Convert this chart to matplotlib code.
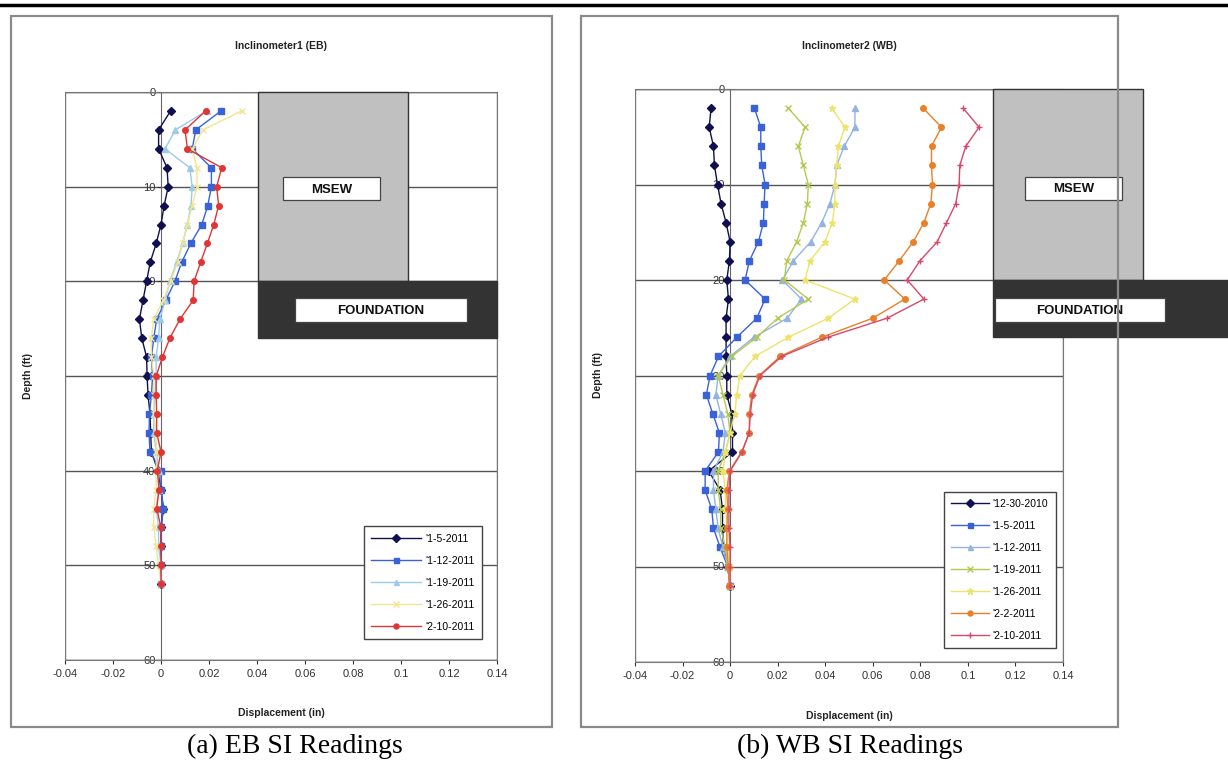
import numpy as np
import matplotlib
matplotlib.use("Agg")
import matplotlib.pyplot as plt
from matplotlib.patches import Rectangle
from matplotlib.lines import Line2D

plt.rcParams['font.family'] = ['Liberation Sans', 'DejaVu Sans']

W, H = 1228, 768

# depth of readings (ft)
depth = list(range(2, 54, 2))

# EB inclinometer, displacement (in)
eb_labels = ["'1-5-2011", "'1-12-2011", "'1-19-2011", "'1-26-2011", "'2-10-2011"]
eb_0105 = [0.004, -0.001, -0.001, 0.0025, 0.003, 0.0013, 0.0, -0.002, -0.0045, -0.006, -0.0075, -0.009, -0.008,
           -0.006, -0.0058, -0.0054, -0.0046, -0.0043, -0.004, -0.0013, 0.0, 0.001, 0.0, 0.0, 0.0, 0.0]
eb_0112 = [0.025, 0.0145, 0.013, 0.021, 0.021, 0.0195, 0.017, 0.0124, 0.0086, 0.0058, 0.002, -0.0018, -0.003,
           -0.004, -0.0035, -0.004, -0.0048, -0.005, -0.0046, 0.0, 0.0, 0.001, 0.0, 0.0, 0.0, 0.0]
eb_0119 = [0.019, 0.006, 0.0017, 0.012, 0.013, 0.0125, 0.011, 0.009, 0.0065, 0.0037, 0.0017, -0.0005, -0.001,
           -0.002, -0.002, -0.0025, -0.003, -0.003, -0.002, -0.001, -0.001, -0.002, -0.001, -0.001, 0.0, 0.0]
eb_0126 = [0.0336, 0.0175, 0.013, 0.015, 0.015, 0.013, 0.011, 0.009, 0.007, 0.004, 0.001, -0.003, -0.004,
           -0.004, -0.003, -0.003, -0.003, -0.002, -0.002, -0.002, -0.002, -0.003, -0.003, -0.002, -0.001, 0.0]
eb_0210 = [0.0186, 0.010, 0.011, 0.0253, 0.0232, 0.024, 0.022, 0.0193, 0.0165, 0.0138, 0.0134, 0.0079, 0.0037,
           0.0006, -0.002, -0.002, -0.0018, -0.0018, 0.0, -0.0015, -0.0008, -0.0018, 0.0, 0.0, 0.0, 0.0]

# WB inclinometer, displacement (in)
wb_labels = ["'12-30-2010", "'1-5-2011", "'1-12-2011", "'1-19-2011", "'1-26-2011", "'2-2-2011", "'2-10-2011"]
wb_1230 = [-0.008, -0.0088, -0.007, -0.0066, -0.0053, -0.0038, -0.0017, 0.0, -0.0003, -0.0014, -0.0007, -0.0017,
           -0.0017, -0.0017, -0.0014, -0.0014, 0.0007, 0.001, 0.001, -0.009, -0.0042, -0.0032, -0.0032, -0.0028,
           -0.001, 0.0]
wb_0105 = [0.0102, 0.0129, 0.0129, 0.0133, 0.0147, 0.0143, 0.014, 0.0119, 0.0081, 0.0063, 0.0147, 0.0112, 0.0028,
           -0.0049, -0.0084, -0.010, -0.0073, -0.0045, -0.0049, -0.0105, -0.0105, -0.0077, -0.007, -0.0042,
           -0.001, 0.0]
wb_0112 = [0.0525, 0.0525, 0.048, 0.0448, 0.0441, 0.042, 0.0385, 0.0339, 0.0266, 0.022, 0.030, 0.024, 0.010,
           0.0, -0.005, -0.006, -0.004, -0.002, -0.003, -0.007, -0.007, -0.006, -0.005, -0.003, -0.001, 0.0]
wb_0119 = [0.0245, 0.0315, 0.0287, 0.0308, 0.0329, 0.0325, 0.0308, 0.028, 0.0238, 0.0228, 0.0329, 0.020, 0.0112,
           0.0007, -0.005, -0.003, -0.001, 0.0, -0.002, -0.005, -0.005, -0.004, -0.004, -0.002, -0.001, 0.0]
wb_0126 = [0.0427, 0.0483, 0.0455, 0.0448, 0.0441, 0.044, 0.043, 0.0399, 0.0336, 0.0315, 0.0525, 0.0413, 0.0245,
           0.0105, 0.0042, 0.0028, 0.002, 0.0, -0.002, -0.003, -0.002, -0.002, -0.001, -0.001, 0.0, 0.0]
wb_0202 = [0.0812, 0.0889, 0.0847, 0.0847, 0.0851, 0.0844, 0.0815, 0.077, 0.0711, 0.0648, 0.0735, 0.060, 0.0385,
           0.021, 0.0123, 0.0091, 0.0081, 0.0081, 0.0049, -0.0003, -0.0014, -0.001, -0.0014, -0.0014, -0.0007,
           -0.0004]
wb_0210 = [0.098, 0.1047, 0.0991, 0.0966, 0.0963, 0.0949, 0.091, 0.0871, 0.0798, 0.0745, 0.0815, 0.066, 0.041,
           0.0217, 0.0126, 0.0095, 0.0085, 0.008, 0.005, 0.0, -0.0005, -0.0005, -0.0005, 0.0, 0.0, 0.0]

xticks = [-0.04, -0.02, 0, 0.02, 0.04, 0.06, 0.08, 0.1, 0.12, 0.14]
yticks = [0, 10, 20, 30, 40, 50, 60]

eb_style = [('#101050', 'D'), ('#3a62d8', 's'), ('#9ccbe8', '^'), ('#f0e592', 'x'), ('#e03535', 'o')]
wb_style = [('#101050', 'D'), ('#3a62d8', 's'), ('#93b4e3', '^'), ('#b5c951', 'x'),
            ('#ece46a', '*'), ('#e8802a', 'o'), ('#d8486a', '+')]


def px(x0, y0, x1, y1):
    # pixel box (top-left origin) -> figure fraction rect
    return [x0 / W, 1 - y1 / H, (x1 - x0) / W, (y1 - y0) / H]


fig = plt.figure(figsize=(W / 100, H / 100), dpi=100)
fig.patch.set_facecolor('white')

# top rule and panel frames
fig.add_artist(Line2D([0, 1], [1 - 5 / H, 1 - 5 / H], color='black', lw=2.5, transform=fig.transFigure))
for (a, b, c, d) in [(11, 16, 552, 727), (581, 16, 1118, 727)]:
    fig.add_artist(Rectangle((a / W, 1 - d / H), (c - a) / W, (d - b) / H, fill=False,
                             edgecolor='#8a8a8a', lw=1.6, transform=fig.transFigure))


def label_box(ax, x0, x1, d0, d1, text):
    ax.add_patch(Rectangle((x0, d0), x1 - x0, d1 - d0, facecolor='white', edgecolor='#444444', lw=0.9,
                           zorder=4, clip_on=False))
    ax.text((x0 + x1) / 2, (d0 + d1) / 2 + 0.1, text, fontsize=9.5, fontweight='bold', ha='center',
            va='center', zorder=5, clip_on=False, color='#111111')


def make_panel(rect, series, labels, styles, title, caption, cx, capx, leg_anchor, hlen, shapes, boxes):
    ax = fig.add_axes(rect)
    for vals, lab, (col, mk) in zip(series, labels, styles):
        ms = 4 if mk in ('D', 's', '^', 'o') else 5
        ax.plot(vals, depth, color=col, marker=mk, ms=ms, lw=1.0, mec=col, mfc=col, label=lab, zorder=3)
    ax.set_xlim(xticks[0], xticks[-1])
    ax.set_ylim(yticks[-1], yticks[0])
    ax.set_xticks(xticks)
    ax.set_xticklabels(['%g' % t for t in xticks])
    ax.set_yticks(yticks)
    ax.spines['left'].set_position(('data', 0))
    ax.spines['left'].set_color('#666666')
    for s in ['top', 'right', 'bottom']:
        ax.spines[s].set_color('#777777')
    ax.add_patch(Rectangle((0, 0), 1, 1, transform=ax.transAxes, fill=False, edgecolor='#777777', lw=1.0,
                           zorder=1))
    ax.yaxis.grid(True, color='#555555', lw=1.0)
    ax.set_axisbelow(True)
    ax.tick_params(axis='both', labelsize=8, colors='#333333', length=3, width=0.8)
    ax.tick_params(axis='y', pad=1)
    ax.set_ylabel('Depth (ft)', fontsize=7.5, fontweight='bold', color='#222222')
    ax.set_xlabel('Displacement (in)', fontsize=7.5, fontweight='bold', color='#222222')
    ax.yaxis.set_label_coords(-0.075, 0.5)
    ax.xaxis.set_label_coords(0.5, -0.085)

    # MSEW / foundation blocks
    (mx0, mx1, md0, md1), (fx0, fx1, fd0, fd1) = shapes
    ax.add_patch(Rectangle((mx0, md0), mx1 - mx0, md1 - md0, facecolor='#c0c0c0', edgecolor='#333333',
                           lw=1.0, zorder=2.8, clip_on=False))
    ax.add_patch(Rectangle((fx0, fd0), fx1 - fx0, fd1 - fd0, facecolor='#333333', edgecolor='#333333',
                           lw=1.0, zorder=2.8, clip_on=False))
    label_box(ax, *boxes[0], 'MSEW')
    label_box(ax, *boxes[1], 'FOUNDATION')

    leg = ax.legend(loc='lower right', bbox_to_anchor=leg_anchor, fontsize=7.5, frameon=True, fancybox=False,
                    edgecolor='#444444', framealpha=1, handlelength=hlen, borderpad=0.7, labelspacing=1.15,
                    handletextpad=0.4, markerscale=0.9)
    leg.get_frame().set_linewidth(1.0)
    leg.set_zorder(6)

    fig.text(cx / W, 1 - 46 / H, title, fontsize=7.5, fontweight='bold', ha='center', va='center',
             color='#222222')
    fig.text(capx / W, 1 - 746 / H, caption, fontsize=20, ha='center', va='center',
             family=['Liberation Serif', 'DejaVu Serif'])
    return ax


make_panel(px(65, 92, 497, 660), [eb_0105, eb_0112, eb_0119, eb_0126, eb_0210], eb_labels, eb_style,
           'Inclinometer1 (EB)', '(a) EB SI Readings', 281, 295, (0.978, 0.028), 4.8,
           ((0.0405, 0.103, 0, 20), (0.0405, 0.14, 20, 26)),
           ((0.0508, 0.0913, 9.0, 11.4), (0.0558, 0.1275, 21.8, 24.3)))

make_panel(px(635, 89, 1063, 662), [wb_1230, wb_0105, wb_0112, wb_0119, wb_0126, wb_0202, wb_0210],
           wb_labels, wb_style,
           'Inclinometer2 (WB)', '(b) WB SI Readings', 849, 850, (0.995, 0.015), 3.6,
           ((0.1105, 0.1735, 0, 20), (0.1105, 0.21, 20, 26)),
           ((0.124, 0.1647, 9.2, 11.6), (0.1113, 0.1828, 21.9, 24.4)))

fig.savefig('out.png', dpi=100)
